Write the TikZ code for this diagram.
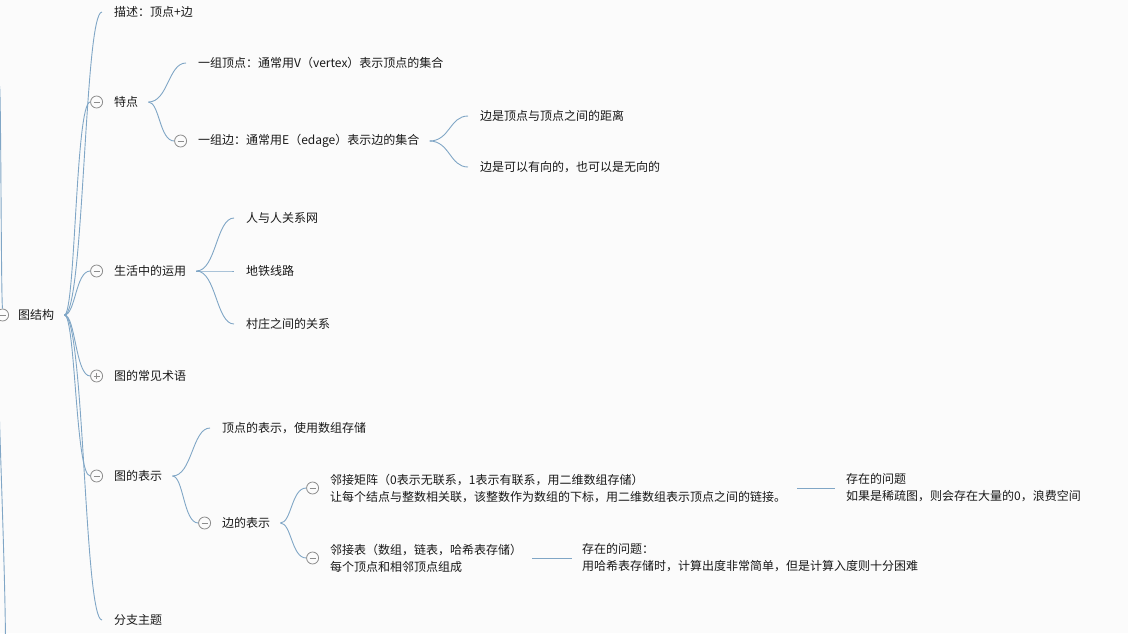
\documentclass[tikz,border=0pt]{standalone}
\usepackage{fontspec}
\setmainfont{Noto Sans CJK SC}
\usetikzlibrary{positioning,calc}
\definecolor{linkblue}{RGB}{128,166,198}
\definecolor{foldgray}{RGB}{140,140,140}
\definecolor{ink}{RGB}{25,25,25}
\definecolor{paper}{RGB}{251,251,251}
\tikzset{
  topic/.style={anchor=west, inner sep=0pt, text=ink, align=left,
    font=\fontsize{12pt}{17pt}\selectfont},
  fold/.style={draw=foldgray, fill=paper, circle, line width=0.8pt,
    minimum size=12pt, inner sep=0pt},
  minus/.style={fold, path picture={\draw[foldgray, line width=0.8pt]
    ([xshift=3pt]path picture bounding box.west) -- ([xshift=-3pt]path picture bounding box.east);}},
  plus/.style={fold, path picture={\draw[foldgray, line width=0.8pt]
    ([xshift=3pt]path picture bounding box.west) -- ([xshift=-3pt]path picture bounding box.east)
    ([yshift=-3pt]path picture bounding box.north) -- ([yshift=3pt]path picture bounding box.south);}},
  branch/.style={draw=linkblue, line width=0.9pt,
    to path={let \p1=(\tikztostart), \p2=(\tikztotarget) in
      .. controls ({(\x1+\x2)/2},\y1) and ({(\x1+\x2)/2},\y2) .. (\tikztotarget) \tikztonodes}},
  leafgap/.style={shorten <=10pt, shorten >=12pt}
}
\begin{document}
\begin{tikzpicture}[x=1pt, y=-1pt]
\useasboundingbox[fill=paper] (0,0) rectangle (1128,633);

% root and its parent lines
\node[topic] (root) at (18,315) {图结构};
\node[minus, left=9pt of root] (rootfold) {};
\coordinate (upper) at (-0.5,86);
\coordinate (lowera) at (-0.5,420);
\coordinate (lowerb) at (5.5,640);
\draw[branch] (upper) to (rootfold.north);
\draw[draw=linkblue, line width=0.9pt] (lowera) .. controls (2,500) and (5,580) .. (lowerb);

% first level
\node[topic] (desc) at (114,12) {描述：顶点+边};
\node[topic] (trait) at (114,102) {特点};
\node[minus, left=11pt of trait] (traitfold) {};
\node[topic] (use) at (114,271) {生活中的运用};
\node[minus, left=11pt of use] (usefold) {};
\node[topic] (term) at (114,376) {图的常见术语};
\node[plus, left=11pt of term] (termfold) {};
\node[topic] (repr) at (114,476) {图的表示};
\node[minus, left=11pt of repr] (reprfold) {};
\node[topic] (subtopic) at (114,620) {分支主题};

\draw[branch, leafgap] (root.east) to (desc.west);
\draw[branch, shorten <=10pt] (root.east) to (traitfold);
\draw[branch, shorten <=10pt] (root.east) to (usefold);
\draw[branch, shorten <=10pt] (root.east) to (termfold);
\draw[branch, shorten <=10pt] (root.east) to (reprfold);
\draw[branch, leafgap] (root.east) to (subtopic.west);

% traits
\node[topic] (vset) at (198,63) {一组顶点：通常用V（vertex）表示顶点的集合};
\node[topic] (eset) at (198,141) {一组边：通常用E（edage）表示边的集合};
\node[minus, left=11pt of eset] (esetfold) {};
\node[topic] (edist) at (480,116) {边是顶点与顶点之间的距离};
\node[topic] (edir) at (480,167) {边是可以有向的，也可以是无向的};
\draw[branch, leafgap] (trait.east) to (vset.west);
\draw[branch, shorten <=10pt] (trait.east) to (esetfold);
\draw[branch, leafgap] (eset.east) to (edist.west);
\draw[branch, leafgap] (eset.east) to (edir.west);

% uses
\node[topic] (social) at (246,218) {人与人关系网};
\node[topic] (metro) at (246,271) {地铁线路};
\node[topic] (village) at (246,324) {村庄之间的关系};
\foreach \leaf in {social,metro,village}
  \draw[branch, leafgap] (use.east) to (\leaf.west);

% representation
\node[topic] (vrep) at (222,428) {顶点的表示，使用数组存储};
\node[topic] (erep) at (222,523) {边的表示};
\node[minus, left=11pt of erep] (erepfold) {};
\draw[branch, leafgap] (repr.east) to (vrep.west);
\draw[branch, shorten <=10pt] (repr.east) to (erepfold);

\node[topic] (matrix) at (330,488) {邻接矩阵（0表示无联系，1表示有联系，用二维数组存储）\\让每个结点与整数相关联，该整数作为数组的下标，用二维数组表示顶点之间的链接。};
\node[minus, left=11pt of matrix] (matrixfold) {};
\node[topic] (adjlist) at (330,558) {邻接表（数组，链表，哈希表存储）\\每个顶点和相邻顶点组成};
\node[minus, left=11pt of adjlist] (adjlistfold) {};
\draw[branch, shorten <=10pt] (erep.east) to (matrixfold);
\draw[branch, shorten <=10pt] (erep.east) to (adjlistfold);

\node[topic] (mproblem) at (846,488) {存在的问题\\如果是稀疏图，则会存在大量的0，浪费空间};
\node[topic] (lproblem) at (582,558) {存在的问题：\\用哈希表存储时，计算出度非常简单，但是计算入度则十分困难};
\draw[draw=linkblue, line width=0.9pt, shorten <=11pt, shorten >=11pt] (matrix.east) -- (mproblem.west);
\draw[draw=linkblue, line width=0.9pt, shorten <=10pt, shorten >=10pt] (adjlist.east) -- (lproblem.west);
\end{tikzpicture}
\end{document}
